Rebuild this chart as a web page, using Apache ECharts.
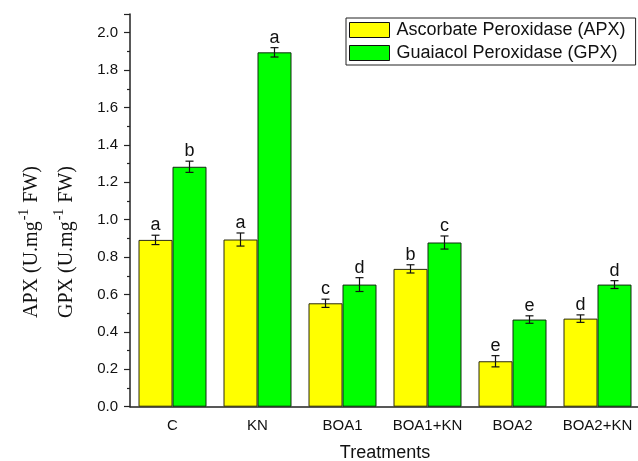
<!DOCTYPE html>
<html>
<head>
<meta charset="utf-8">
<script src="https://cdn.jsdelivr.net/npm/echarts@6/dist/echarts.min.js"></script>
<style>html,body{margin:0;padding:0;background:#fff}#c{width:638px;height:461px}</style>
</head>
<body>
<div id="c"></div>
<script>
const categories = ['C', 'KN', 'BOA1', 'BOA1+KN', 'BOA2', 'BOA2+KN'];
const apxValues = [0.892, 0.894, 0.553, 0.737, 0.243, 0.471];
const apxErrors = [0.025, 0.035, 0.022, 0.022, 0.030, 0.020];
const apxLetters = ['a', 'a', 'c', 'b', 'e', 'd'];
const gpxValues = [1.283, 1.895, 0.653, 0.878, 0.466, 0.653];
const gpxErrors = [0.030, 0.025, 0.037, 0.035, 0.020, 0.021];
const gpxLetters = ['b', 'a', 'd', 'c', 'e', 'd'];
const seriesNames = ['Ascorbate Peroxidase (APX)', 'Guaiacol Peroxidase (GPX)'];

const chart = echarts.init(document.getElementById('c'));

function errorSeries(values, errors, letters, side) {
  return {
    type: 'custom',
    xAxisIndex: 0,
    yAxisIndex: 0,
    z: 10,
    silent: true,
    data: values.map((v, i) => [i, v, errors[i], letters[i]]),
    renderItem: function (params, api) {
      const idx = api.value(0);
      const v = api.value(1);
      const e = api.value(2);
      const band = api.size([1, 0])[0];
      const x = api.coord([idx, 0])[0] + side * band * 0.2;
      const yTop = api.coord([idx, v + e])[1];
      const yBot = api.coord([idx, v - e])[1];
      const cap = 4;
      const ls = { stroke: '#111', lineWidth: 1.2 };
      return {
        type: 'group',
        children: [
          { type: 'line', shape: { x1: x, y1: yTop, x2: x, y2: yBot }, style: ls },
          { type: 'line', shape: { x1: x - cap, y1: yTop, x2: x + cap, y2: yTop }, style: ls },
          { type: 'line', shape: { x1: x - cap, y1: yBot, x2: x + cap, y2: yBot }, style: ls },
          { type: 'text', x: x, y: yTop - 1, style: { text: letters[idx], fontFamily: 'Arial, Liberation Sans', fontSize: 18, fill: '#111', align: 'center', verticalAlign: 'bottom' } }
        ]
      };
    }
  };
}

const option = {
  animation: false,
  backgroundColor: '#fff',
  grid: { left: 130, top: 14, width: 510, bottom: 54.3, containLabel: false, outerBoundsMode: 'none' },
  legend: {
    data: seriesNames,
    orient: 'vertical',
    left: 346,
    top: 18,
    width: 290,
    padding: [3, 10, 3, 3],
    borderColor: '#222',
    borderWidth: 1,
    itemWidth: 40,
    itemHeight: 15,
    itemGap: 5,
    icon: 'rect',
    itemStyle: { borderColor: '#111', borderWidth: 1 },
    textStyle: { fontFamily: 'Arial, Liberation Sans', fontSize: 18, color: '#111', lineHeight: 18, padding: [0, 0, 0, 2] }
  },
  xAxis: [
    {
      type: 'category',
      data: categories,
      name: 'Treatments',
      nameLocation: 'middle',
      nameGap: 37,
      nameTextStyle: { fontFamily: 'Arial, Liberation Sans', fontSize: 18, color: '#111' },
      axisLine: { lineStyle: { color: '#222', width: 1.5 } },
      axisTick: { alignWithLabel: true, interval: 0, length: 7, lineStyle: { color: '#222', width: 1.2 } },
      axisLabel: { interval: 0, fontFamily: 'Arial, Liberation Sans', fontSize: 15, color: '#111', margin: 12 }
    },
    {
      type: 'category',
      data: categories,
      position: 'bottom',
      axisLine: { show: false },
      axisTick: { interval: 0, length: 3, lineStyle: { color: '#222', width: 1.2 } },
      axisLabel: { show: false }
    }
  ],
  yAxis: {
    type: 'value',
    min: 0,
    max: 2.1,
    interval: 0.2,
    axisLine: { show: true, lineStyle: { color: '#222', width: 1.5 } },
    axisTick: { show: true, length: 6, lineStyle: { color: '#222', width: 1.2 } },
    minorTick: { show: true, splitNumber: 2, length: 3, lineStyle: { color: '#222', width: 1.2 } },
    splitLine: { show: false },
    axisLabel: {
      fontFamily: 'Arial, Liberation Sans', fontSize: 15, color: '#111', margin: 12,
      showMaxLabel: false,
      formatter: v => v.toFixed(1)
    }
  },
  graphic: [
    {
      type: 'text',
      x: 49,
      y: 242,
      rotation: Math.PI / 2,
      style: {
        text: '{n|APX (U.mg}{s|-1}{n| FW)}\n{n|GPX (U.mg}{s|-1}{n| FW)}',
        align: 'center',
        verticalAlign: 'middle',
        fill: '#111',
        rich: {
          n: { fontFamily: 'Times New Roman, Liberation Serif', fontSize: 20, lineHeight: 35, fill: '#111' },
          s: { fontFamily: 'Times New Roman, Liberation Serif', fontSize: 14, lineHeight: 35, fill: '#111', padding: [0, 1, 14, 1] }
        }
      }
    }
  ],
  series: [
    {
      name: seriesNames[0],
      type: 'bar',
      data: apxValues,
      barWidth: 34,
      barGap: '0%',
      itemStyle: { color: '#ffff00', borderColor: '#2a2a10', borderWidth: 1 }
    },
    {
      name: seriesNames[1],
      type: 'bar',
      data: gpxValues,
      barWidth: 34,
      barGap: '0%',
      itemStyle: { color: '#00ff00', borderColor: '#102a10', borderWidth: 1 }
    },
    errorSeries(apxValues, apxErrors, apxLetters, -1),
    errorSeries(gpxValues, gpxErrors, gpxLetters, 1)
  ]
};
chart.setOption(option);
</script>
</body>
</html>
